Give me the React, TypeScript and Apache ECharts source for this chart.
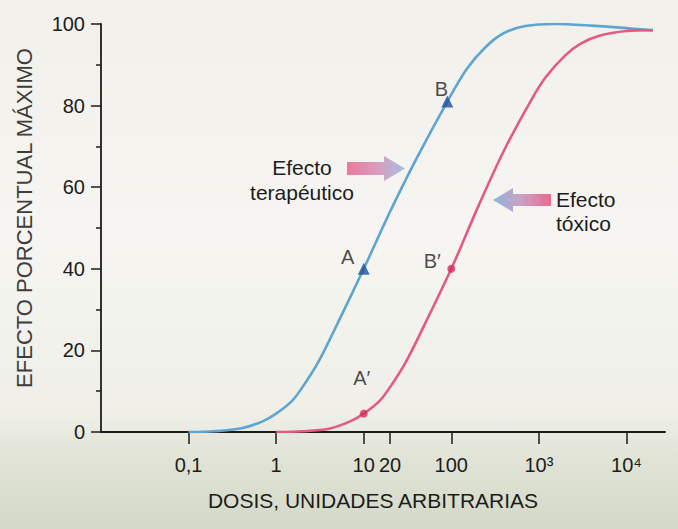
import { useEffect, useRef } from "react";
import * as echarts from "echarts";

// X axis ticks (dose, arbitrary units) and their printed labels
const tickDoses = [0.1, 1, 10, 20, 100, 1000, 10000];
const tickLabels = ["0,1", "1", "10", "20", "100", "10³", "10⁴"];

// Therapeutic effect curve (blue)
const therDose = [0.1, 0.2, 0.4, 0.7, 1, 1.5, 2, 3, 5, 10, 20, 40, 90, 150, 250, 400, 700, 1500, 4000, 10000, 20000];
const therEffect = [0, 0.2, 0.9, 2.6, 4.5, 7.5, 11, 17, 26.5, 40, 54, 67, 81, 89, 94.5, 97.8, 99.5, 100, 99.6, 99, 98.4];

// Toxic effect curve (pink)
const toxDose = [1, 2, 4, 7, 10, 15, 20, 30, 50, 100, 200, 400, 800, 1200, 2000, 3000, 5000, 10000, 20000];
const toxEffect = [0, 0.2, 0.8, 2.6, 4.5, 7.5, 11, 17, 26.5, 40, 55, 69, 81, 87, 92.3, 95.2, 97.2, 98.3, 98.5];

// Marked points
const therMarkDose = [10, 90];
const therMarkEffect = [40, 81];
const therMarkLabels = ["A", "B"];
const toxMarkDose = [10, 100];
const toxMarkEffect = [4.5, 40];
const toxMarkLabels = ["A′", "B′"];

// label offsets (style, not data)
const therLabelOffsets = [[-16, -12], [-6, -13]];
const toxLabelOffsets = [[-2, -36], [-19, -8]];

const FONT = '"Liberation Sans", Arial, Helvetica, sans-serif';
const INK = "#1c1c1c";

export default function App() {
  const ref = useRef<HTMLDivElement>(null);
  useEffect(() => {
    if (!ref.current) return;
    const chart = echarts.init(ref.current, undefined, { renderer: "svg" });
    const lg = (v: number) => Math.log10(v);
    const tickVals = tickDoses.map(lg);
    const fmt = (v: number) => {
      const i = tickVals.findIndex((t) => Math.abs(t - v) < 1e-6);
      return i >= 0 ? tickLabels[i] : "";
    };
    const labelStyle = { fontFamily: FONT, fontSize: 20, color: INK };

    chart.setOption({
      animation: false,
      backgroundColor: new echarts.graphic.LinearGradient(0, 0, 0, 1, [
        { offset: 0, color: "#f1f0eb" },
        { offset: 0.45, color: "#f6f5f1" },
        { offset: 0.78, color: "#efefe8" },
        { offset: 0.86, color: "#e1e4d7" },
        { offset: 1, color: "#d3d9c7" },
      ]),
      grid: { left: 101, right: 13, top: 24, bottom: 97, containLabel: false, outerBoundsMode: "none" },
      xAxis: {
        type: "value",
        min: -2,
        max: 4.44,
        name: "DOSIS, UNIDADES ARBITRARIAS",
        nameLocation: "middle",
        nameGap: 58,
        nameTextStyle: { fontFamily: FONT, fontSize: 21, color: INK, padding: [0, 20, 0, 0] },
        axisLine: { onZero: false, lineStyle: { color: INK, width: 1.8 } },
        axisTick: { customValues: tickVals, length: 12, lineStyle: { color: INK, width: 1.5 } },
        axisLabel: { customValues: tickVals, formatter: fmt, margin: 23, ...labelStyle },
        splitLine: { show: false },
      },
      yAxis: {
        type: "value",
        min: 0,
        max: 100,
        interval: 20,
        name: "EFECTO PORCENTUAL MÁXIMO",
        nameLocation: "middle",
        nameGap: 66,
        nameTextStyle: { fontFamily: FONT, fontSize: 22, color: "#3d3d3d", padding: [0, 0, 0, 20] },
        axisLine: { onZero: false, lineStyle: { color: INK, width: 1.8 } },
        axisTick: { length: 10, lineStyle: { color: INK, width: 1.5 } },
        minorTick: { show: true, splitNumber: 2, length: 5, lineStyle: { color: INK, width: 1.5 } },
        axisLabel: { margin: 16, ...labelStyle },
        splitLine: { show: false },
        minorSplitLine: { show: false },
      },
      series: [
        {
          type: "line",
          name: "terapéutico",
          data: therDose.map((d, i) => [lg(d), therEffect[i]]),
          smooth: 0.3,
          showSymbol: false,
          lineStyle: { color: "#5ea6d0", width: 2.6 },
          z: 3,
        },
        {
          type: "line",
          name: "tóxico",
          data: toxDose.map((d, i) => [lg(d), toxEffect[i]]),
          smooth: 0.3,
          showSymbol: false,
          lineStyle: { color: "#e35a82", width: 2.6 },
          z: 3,
        },
        {
          type: "scatter",
          symbol: "triangle",
          symbolSize: 12,
          itemStyle: { color: "#1f4f9c" },
          z: 5,
          data: therMarkDose.map((d, i) => ({
            value: [lg(d), therMarkEffect[i]],
            label: {
              show: true,
              position: "inside",
              offset: therLabelOffsets[i],
              formatter: therMarkLabels[i],
              ...labelStyle,
            },
          })),
        },
        {
          type: "scatter",
          symbol: "circle",
          symbolSize: 8,
          itemStyle: { color: "#d62c5c" },
          z: 5,
          data: toxMarkDose.map((d, i) => ({
            value: [lg(d), toxMarkEffect[i]],
            label: {
              show: true,
              position: "inside",
              offset: toxLabelOffsets[i],
              formatter: toxMarkLabels[i],
              ...labelStyle,
            },
          })),
        },
      ],
      graphic: [
        {
          type: "text",
          x: 302,
          y: 155,
          style: {
            text: "Efecto\nterapéutico",
            fontFamily: FONT,
            fontSize: 21,
            fill: INK,
            align: "center",
            verticalAlign: "top",
            lineHeight: 25,
          },
        },
        {
          type: "polygon",
          shape: {
            points: [
              [347, 162], [384, 162], [384, 156], [405, 168.5], [384, 181], [384, 175], [347, 175],
            ],
          },
          style: {
            fill: new echarts.graphic.LinearGradient(0, 0, 1, 0, [
              { offset: 0, color: "#ec7a9c" },
              { offset: 0.55, color: "#d99ec0" },
              { offset: 1, color: "#a3bfe0" },
            ]),
          },
        },
        {
          type: "text",
          x: 556,
          y: 187,
          style: {
            text: "Efecto\ntóxico",
            fontFamily: FONT,
            fontSize: 21,
            fill: INK,
            align: "left",
            verticalAlign: "top",
            lineHeight: 24,
          },
        },
        {
          type: "polygon",
          shape: {
            points: [
              [493, 200], [513, 188], [513, 194], [551, 194], [551, 206], [513, 206], [513, 212],
            ],
          },
          style: {
            fill: new echarts.graphic.LinearGradient(0, 0, 1, 0, [
              { offset: 0, color: "#8fb2da" },
              { offset: 0.45, color: "#c9a3c8" },
              { offset: 1, color: "#ea6a90" },
            ]),
          },
        },
      ],
    });
    return () => chart.dispose();
  }, []);
  return (
    <div
      ref={ref}
      style={{ position: "absolute", left: 0, top: 0, width: 678, height: 529 }}
    />
  );
}
